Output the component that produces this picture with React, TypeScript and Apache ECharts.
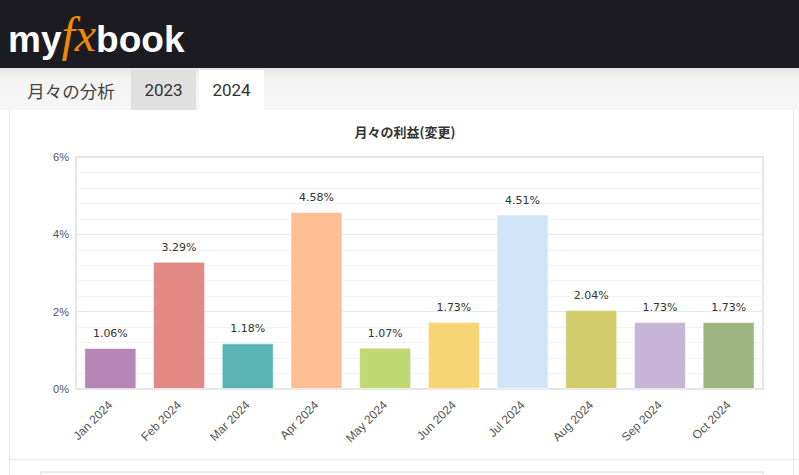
import React, { useEffect, useRef } from "react";
import * as echarts from "echarts";

const categories = ["Jan 2024", "Feb 2024", "Mar 2024", "Apr 2024", "May 2024", "Jun 2024", "Jul 2024", "Aug 2024", "Sep 2024", "Oct 2024"];
const gains = [1.06, 3.29, 1.18, 4.58, 1.07, 1.73, 4.51, 2.04, 1.73, 1.73];
const barColors = ["#b586b5", "#e28986", "#5bb4b4", "#ffbf94", "#bfd871", "#f7d474", "#d0e5f8", "#d2cb6c", "#c6b5d7", "#9db580"];
const yTicks = [0, 2, 4, 6];
const tabs = ["月々の分析", "2023", "2024"];
const chartTitle = "月々の利益(変更)";

export default function App() {
  const ref = useRef<HTMLDivElement>(null);
  useEffect(() => {
    document.body.style.margin = "0";
    const chart = echarts.init(ref.current!, undefined, { renderer: "svg" });
    const option: any = {
      animation: false,
      backgroundColor: "#ffffff",
      title: {
        text: chartTitle,
        left: 400,
        top: 120,
        textAlign: "center",
        textStyle: { fontSize: 13, fontWeight: "bold", color: "#333", fontFamily: "Noto Sans CJK JP" },
      },
      grid: {
        left: 76,
        right: 36,
        top: 157,
        bottom: 86,
        show: true,
        borderColor: "#e6e6e6",
        borderWidth: 2,
        backgroundColor: "#fff",
        containLabel: false,
      },
      xAxis: {
        type: "category",
        data: categories,
        axisLine: { show: false },
        axisTick: { show: false },
        axisLabel: {
          rotate: 45,
          color: "#555555",
          fontSize: 12,
          fontFamily: "Liberation Sans",
          margin: 14,
          interval: 0,
        },
        splitLine: { show: false },
      },
      yAxis: {
        type: "value",
        min: yTicks[0],
        max: yTicks[yTicks.length - 1],
        interval: 2,
        axisLine: { show: false },
        axisTick: { show: false },
        axisLabel: { formatter: "{value}%", color: "#555555", fontSize: 11, fontFamily: "Liberation Sans", margin: 7 },
        splitLine: { show: true, lineStyle: { color: "#e8e8e8", width: 1 } },
        minorTick: { show: false, splitNumber: 5 },
        minorSplitLine: { show: true, lineStyle: { color: "#f3f3f3", width: 1 } },
      },
      series: [
        {
          type: "bar",
          barWidth: 52,
          data: gains.map((v, i) => ({
            value: v,
            itemStyle: { color: barColors[i], borderColor: "rgba(255,255,255,0.55)", borderWidth: 1 },
          })),
          label: {
            show: true,
            position: "top",
            distance: 9,
            color: "#333",
            fontSize: 11,
            fontFamily: "DejaVu Sans",
            formatter: (p: any) => p.value.toFixed(2) + "%",
          },
        },
      ],
      graphic: [
        // header
        { type: "rect", shape: { x: 0, y: 0, width: 799, height: 68 }, style: { fill: "#1c1b21" }, z: 100 },
        {
          type: "text",
          x: 8,
          y: 58,
          z: 101,
          style: {
            text: "{a|my}{b|fx}{a|book}",
            verticalAlign: "bottom",
            rich: {
              a: { fill: "#ffffff", fontSize: 37, fontWeight: "bold", fontFamily: "Liberation Sans", verticalAlign: "bottom" },
              b: { fill: "#f08a00", fontSize: 48, fontStyle: "italic", fontFamily: "Liberation Serif", fontWeight: "normal", verticalAlign: "bottom" },
            },
          },
        },
        // tab strip background
        {
          type: "rect",
          shape: { x: 0, y: 68, width: 799, height: 42 },
          style: {
            fill: new echarts.graphic.LinearGradient(0, 0, 0, 1, [
              { offset: 0, color: "#e4e4e4" },
              { offset: 0.22, color: "#f4f4f4" },
              { offset: 1, color: "#f6f6f6" },
            ]),
          },
          z: 100,
        },
        { type: "rect", shape: { x: 131, y: 70, width: 65, height: 40 }, style: { fill: "#e0e0e0" }, z: 101 },
        { type: "rect", shape: { x: 199, y: 70, width: 65, height: 40 }, style: { fill: "#ffffff" }, z: 101 },
        { type: "text", x: 71, y: 90, z: 102, style: { text: tabs[0], fill: "#444", fontSize: 17.5, fontFamily: "Noto Sans CJK JP", align: "center", verticalAlign: "middle" } },
        { type: "text", x: 163.5, y: 90, z: 102, style: { text: tabs[1], fill: "#333", fontSize: 17, fontFamily: "Roboto", align: "center", verticalAlign: "middle" } },
        { type: "text", x: 231.5, y: 90, z: 102, style: { text: tabs[2], fill: "#333", fontSize: 17, fontFamily: "Roboto", align: "center", verticalAlign: "middle" } },
        // panel borders
        { type: "line", shape: { x1: 9.5, y1: 110, x2: 9.5, y2: 475 }, style: { stroke: "#e6e6e6", lineWidth: 1 }, z: 100 },
        { type: "line", shape: { x1: 793.5, y1: 110, x2: 793.5, y2: 475 }, style: { stroke: "#e6e6e6", lineWidth: 1 }, z: 100 },
        { type: "line", shape: { x1: 10, y1: 459.5, x2: 799, y2: 459.5 }, style: { stroke: "#e9e9e9", lineWidth: 1 }, z: 100 },
        // bottom box
        { type: "rect", shape: { x: 41, y: 472, width: 722, height: 20 }, style: { fill: "#fff", stroke: "#e3e3e3", lineWidth: 1.5 }, z: 100 },
      ],
    };
    chart.setOption(option);
    return () => chart.dispose();
  }, []);
  return <div ref={ref} style={{ width: 799, height: 475, position: "absolute", left: 0, top: 0 }} />;
}
